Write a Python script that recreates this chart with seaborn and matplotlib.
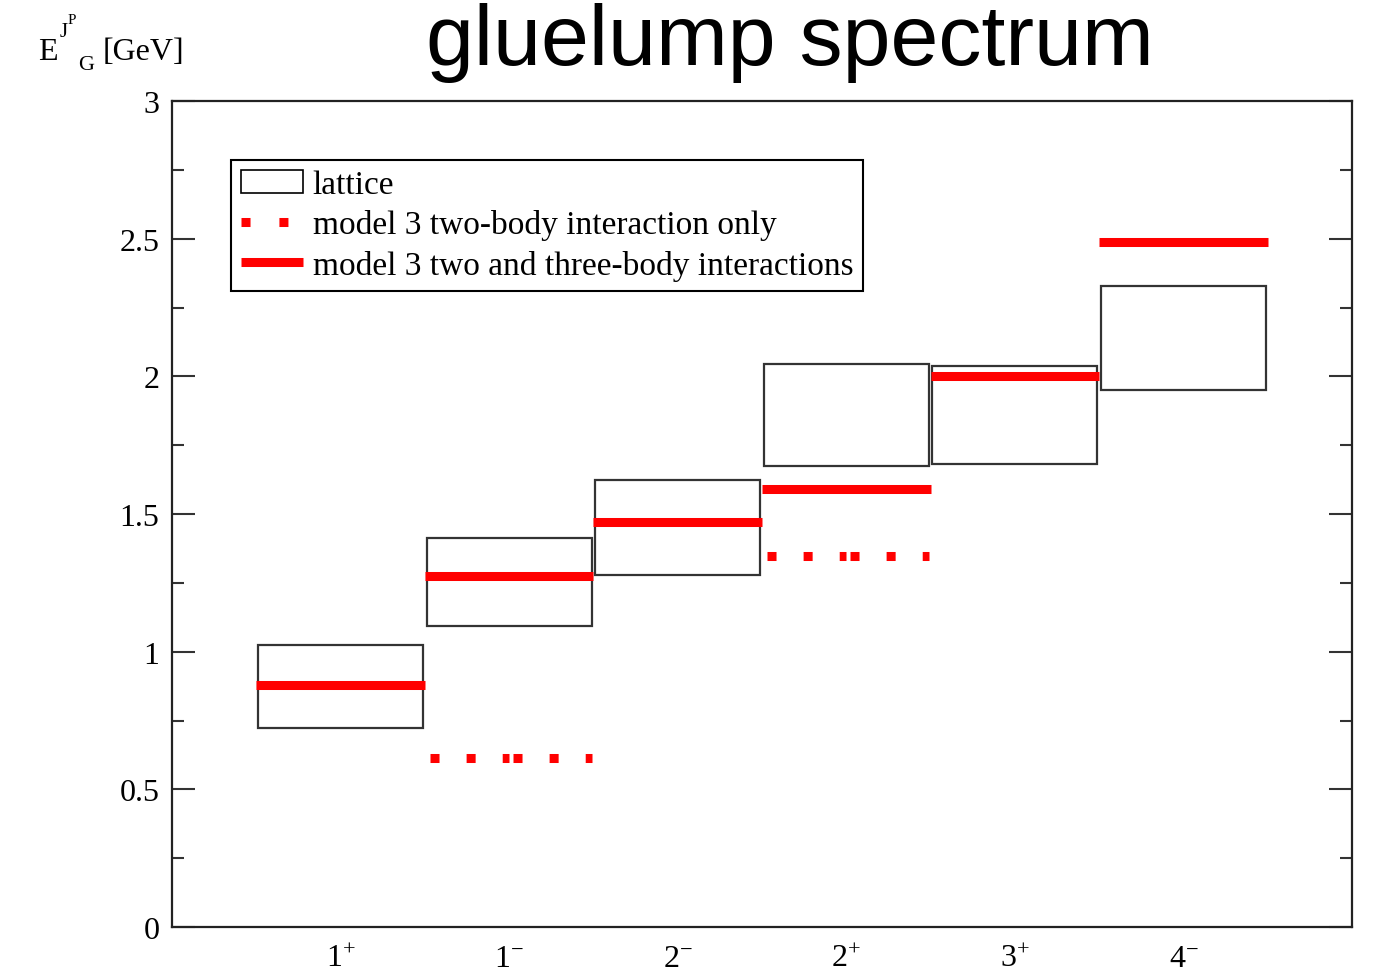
import numpy as np
import pandas as pd
import matplotlib
matplotlib.use("Agg")
import matplotlib.pyplot as plt
import seaborn as sns
from matplotlib.patches import Rectangle, Patch
from matplotlib.lines import Line2D
from matplotlib.ticker import MultipleLocator

# Gluelump states J^P and their energies [GeV]
states = ["1+", "1-", "2-", "2+", "3+", "4-"]
state_labels = [r"$\mathregular{1^{+}}$", r"$\mathregular{1^{-}}$", r"$\mathregular{2^{-}}$",
                r"$\mathregular{2^{+}}$", r"$\mathregular{3^{+}}$", r"$\mathregular{4^{-}}$"]
lattice_low = [0.723, 1.093, 1.279, 1.676, 1.682, 1.952]
lattice_high = [1.024, 1.413, 1.624, 2.045, 2.039, 2.327]
two_three_body = [0.880, 1.275, 1.472, 1.591, 2.000, 2.487]
two_body_states = ["1-", "2+"]
two_body = [0.613, 1.349]
y_ticks = [0, 0.5, 1, 1.5, 2, 2.5, 3]
y_tick_labels = ["0", "0.5", "1", "1.5", "2", "2.5", "3"]

RED = "#ff0000"
EDGE = "#333333"
SERIF = "Liberation Serif"

sns.set_style("ticks")
plt.rcParams["font.family"] = [SERIF, "DejaVu Serif"]
plt.rcParams["text.color"] = "black"
plt.rcParams["xtick.color"] = "black"
plt.rcParams["ytick.color"] = "black"
plt.rcParams["mathtext.fontset"] = "custom"
plt.rcParams["mathtext.rm"] = SERIF
plt.rcParams["mathtext.it"] = SERIF + ":italic"
plt.rcParams["mathtext.bf"] = SERIF + ":bold"

fig = plt.figure(figsize=(13.84, 9.78), dpi=100)
ax = fig.add_axes([172 / 1384, 1 - 928 / 978, 1180 / 1384, 826 / 978])

pos = {s: i + 1 for i, s in enumerate(states)}
half = 0.49

# lattice bands
for s, lo, hi in zip(states, lattice_low, lattice_high):
    ax.add_patch(Rectangle((pos[s] - half, lo), 2 * half, hi - lo,
                           facecolor="none", edgecolor=EDGE, lw=1.6, zorder=2))

# two- and three-body model levels
rows = []
for s, e in zip(states, two_three_body):
    rows.append({"x": pos[s] - 0.5, "E": e, "level": s})
    rows.append({"x": pos[s] + 0.5, "E": e, "level": s})
full = pd.DataFrame(rows)
sns.lineplot(data=full, x="x", y="E", units="level", estimator=None, sort=False,
             color=RED, lw=6.5, legend=False, ax=ax, zorder=3,
             solid_capstyle="butt")

# two-body-only levels, drawn in two halves per state
rows = []
for s, e in zip(two_body_states, two_body):
    c = pos[s]
    rows += [{"x": c - 0.47, "E": e, "seg": s + "a"}, {"x": c, "E": e, "seg": s + "a"},
             {"x": c + 0.02, "E": e, "seg": s + "b"}, {"x": c + 0.49, "E": e, "seg": s + "b"}]
dots = pd.DataFrame(rows)
sns.lineplot(data=dots, x="x", y="E", units="seg", estimator=None, sort=False,
             color=RED, lw=6.5, legend=False, ax=ax, zorder=3,
             dashes=False)
for line in ax.lines[len(states):]:
    line.set_dashes((1, 3))
    line.set_dash_capstyle("butt")

ax.set_xlim(0, 7)
ax.set_ylim(0, 3)
ax.set_xlabel("")
ax.set_ylabel("")
ax.set_xticks(list(pos.values()))
ax.set_xticklabels(state_labels)
ax.set_yticks(y_ticks)
ax.set_yticklabels(y_tick_labels)
ax.yaxis.set_minor_locator(MultipleLocator(0.25))
ax.tick_params(axis="x", length=0, pad=12, labelsize=23)
ax.tick_params(axis="y", which="major", direction="in", length=16.5, width=1.5,
               color=EDGE, left=True, right=True, labelsize=23, pad=9)
ax.tick_params(axis="y", which="minor", direction="in", length=8.5, width=1.5,
               color=EDGE, left=True, right=True)
for sp in ax.spines.values():
    sp.set_visible(True)
    sp.set_linewidth(1.6)
    sp.set_color("#222222")

handles = [
    Patch(facecolor="white", edgecolor="black", lw=1.2),
    Line2D([], [], color=RED, lw=6.5, dashes=(1, 3.2), dash_capstyle="butt"),
    Line2D([], [], color=RED, lw=6.5, solid_capstyle="butt"),
]
labels = ["lattice", "model 3 two-body interaction only",
          "model 3 two and three-body interactions"]
leg = ax.legend(handles, labels, loc="upper left", bbox_to_anchor=(0.05, 0.929),
                borderaxespad=0, fontsize=24, frameon=True, fancybox=False,
                framealpha=1, edgecolor="black", handlelength=1.85,
                handletextpad=0.3, borderpad=0.3, labelspacing=0.28)
leg.get_frame().set_linewidth(1.5)

# axis label E^{J^P}_G [GeV]
fig.text(38 / 1384, 1 - 60 / 978, "E", fontsize=23, va="baseline", ha="left")
fig.text(60 / 1384, 1 - 37 / 978, "J", fontsize=15, va="baseline", ha="left")
fig.text(68 / 1384, 1 - 24 / 978, "P", fontsize=11, va="baseline", ha="left")
fig.text(78 / 1384, 1 - 70 / 978, "G", fontsize=16, va="baseline", ha="left")
fig.text(103 / 1384, 1 - 60 / 978, "[GeV]", fontsize=23, va="baseline", ha="left")

fig.text(790 / 1384, 1 - 65 / 978, "gluelump spectrum", fontsize=62,
         family="Liberation Sans", ha="center", va="baseline", color="black")

fig.savefig("out.png", dpi=100)
